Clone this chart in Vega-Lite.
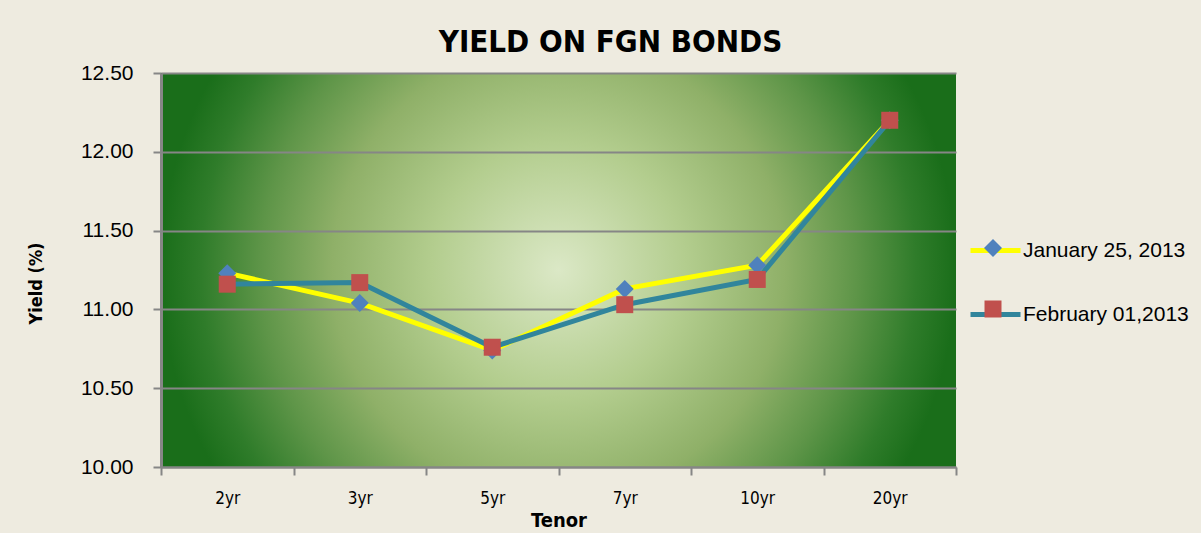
{
  "$schema": "https://vega.github.io/schema/vega-lite/v6.json",
  "width": 795,
  "height": 394,
  "autosize": {"type": "none"},
  "padding": {"left": 161, "top": 73, "right": 245, "bottom": 66},
  "background": "#EEEBE0",
  "title": {
    "text": "YIELD ON FGN BONDS",
    "font": "DejaVu Sans Condensed",
    "fontSize": 31,
    "fontWeight": "bold",
    "color": "#000000",
    "anchor": "middle",
    "baseline": "alphabetic",
    "offset": 18,
    "dx": 52,
    "dy": 39
  },
  "data": {
    "values": [
      {"tenor": "2yr", "series": "January 25, 2013", "yield": 11.23},
      {"tenor": "3yr", "series": "January 25, 2013", "yield": 11.04},
      {"tenor": "5yr", "series": "January 25, 2013", "yield": 10.74},
      {"tenor": "7yr", "series": "January 25, 2013", "yield": 11.13},
      {"tenor": "10yr", "series": "January 25, 2013", "yield": 11.28},
      {"tenor": "20yr", "series": "January 25, 2013", "yield": 12.2},
      {"tenor": "2yr", "series": "February 01,2013", "yield": 11.16},
      {"tenor": "3yr", "series": "February 01,2013", "yield": 11.17},
      {"tenor": "5yr", "series": "February 01,2013", "yield": 10.76},
      {"tenor": "7yr", "series": "February 01,2013", "yield": 11.03},
      {"tenor": "10yr", "series": "February 01,2013", "yield": 11.19},
      {"tenor": "20yr", "series": "February 01,2013", "yield": 12.2}
    ]
  },
  "encoding": {
    "x": {
      "field": "tenor",
      "type": "ordinal",
      "sort": ["2yr", "3yr", "5yr", "7yr", "10yr", "20yr"],
      "scale": {"type": "band", "paddingInner": 0, "paddingOuter": 0},
      "axis": {
        "title": "Tenor",
        "titleFont": "DejaVu Sans Condensed",
        "titleFontSize": 20,
        "titleFontWeight": "bold",
        "titleColor": "#000000",
        "titlePadding": 4,
        "labelFont": "DejaVu Sans Condensed",
        "labelFontSize": 17,
        "labelColor": "#000000",
        "labelPadding": 15,
        "labelAngle": 0,
        "tickBand": "extent",
        "tickSize": 8,
        "tickColor": "#868686",
        "tickWidth": 2,
        "domainColor": "#868686",
        "domainWidth": 2,
        "grid": false
      }
    },
    "y": {
      "field": "yield",
      "type": "quantitative",
      "scale": {"domain": [10, 12.5], "nice": false, "zero": false},
      "axis": {
        "title": "Yield (%)",
        "titleFont": "DejaVu Sans Condensed",
        "titleFontSize": 18,
        "titleFontWeight": "bold",
        "titleColor": "#000000",
        "titlePadding": 35,
        "titleY": 210,
        "values": [10, 10.5, 11, 11.5, 12, 12.5],
        "format": ".2f",
        "labelFont": "Liberation Sans",
        "labelFontSize": 21,
        "labelColor": "#000000",
        "labelPadding": 20,
        "tickSize": 8,
        "tickColor": "#868686",
        "tickWidth": 2,
        "domainColor": "#868686",
        "domainWidth": 3,
        "grid": true,
        "gridColor": "#868686",
        "gridWidth": 2
      }
    }
  },
  "layer": [
    {
      "mark": {"type": "line", "strokeWidth": 5},
      "encoding": {
        "color": {
          "field": "series",
          "type": "nominal",
          "scale": {"domain": ["January 25, 2013", "February 01,2013"], "range": ["#FFFF00", "#31859C"]},
          "legend": {
            "orient": "none",
            "legendX": 807,
            "legendY": 150,
            "title": null,
            "symbolType": "stroke",
            "symbolSize": 2500,
            "symbolStrokeWidth": 5,
            "labelFont": "Liberation Sans",
            "labelFontSize": 21,
            "labelColor": "#000000",
            "labelOffset": 0,
            "labelLimit": 400,
            "rowPadding": 26
          }
        }
      }
    },
    {
      "mark": {"type": "point", "filled": true, "opacity": 1, "size": 2500, "strokeWidth": 0},
      "encoding": {
        "fill": {
          "field": "series",
          "type": "nominal",
          "sort": "descending",
          "scale": {"range": ["#4F81BD", "#C0504D"]},
          "legend": {
            "orient": "none",
            "legendX": 807,
            "legendY": 150,
            "title": null,
            "symbolSize": 2500,
            "symbolStrokeWidth": 0,
            "symbolOpacity": 1,
            "labelFont": "Liberation Sans",
            "labelFontSize": 21,
            "labelOpacity": 0,
            "labelOffset": 0,
            "labelLimit": 400,
            "rowPadding": 26
          }
        },
        "shape": {
          "field": "series",
          "type": "nominal",
          "sort": "descending",
          "scale": {"range": ["M-0.36,0L0,-0.36L0.36,0L0,0.36Z", "M-0.34,-0.34H0.34V0.34H-0.34Z"]},
          "legend": {
            "orient": "none",
            "legendX": 807,
            "legendY": 150,
            "title": null,
            "symbolSize": 2500,
            "symbolStrokeWidth": 0,
            "symbolOpacity": 1,
            "labelFont": "Liberation Sans",
            "labelFontSize": 21,
            "labelOpacity": 0,
            "labelOffset": 0,
            "labelLimit": 400,
            "rowPadding": 26
          }
        }
      }
    }
  ],
  "config": {
    "view": {
      "stroke": null,
      "fill": {
        "gradient": "radial",
        "x1": 0.5, "y1": 0.5, "r1": 0,
        "x2": 0.5, "y2": 0.5, "r2": 0.5,
        "stops": [
          {"offset": 0, "color": "#DBE8C6"},
          {"offset": 0.32, "color": "#B3CD8E"},
          {"offset": 0.57, "color": "#8FB068"},
          {"offset": 0.75, "color": "#5E9548"},
          {"offset": 0.9, "color": "#2F7C2A"},
          {"offset": 1, "color": "#1A6E1A"}
        ]
      }
    }
  }
}
